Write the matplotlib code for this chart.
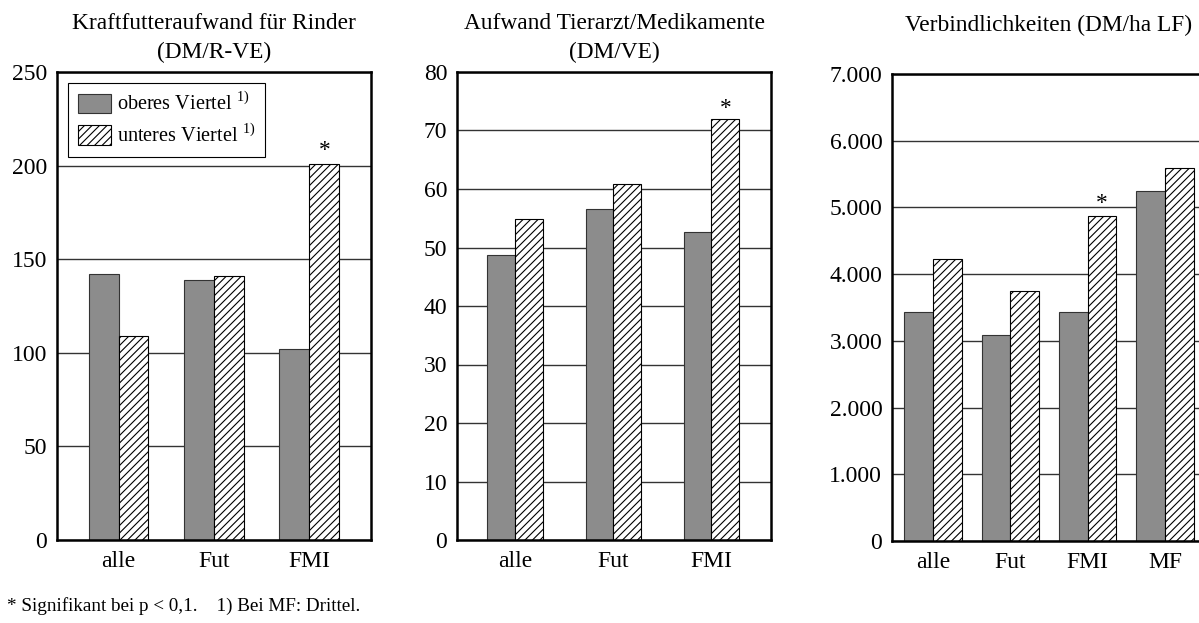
import matplotlib.pyplot as plt
from matplotlib.ticker import FuncFormatter

# dpi 90 so that the "////" hatch gets the same line spacing as the original
DPI = 90
S = 100 / DPI  # sizes below are tuned for 100 dpi, scale them up

plt.rcParams["font.family"] = ["Liberation Serif", "DejaVu Serif"]
plt.rcParams["mathtext.fontset"] = "custom"
plt.rcParams["mathtext.rm"] = "Liberation Serif"
plt.rcParams["hatch.linewidth"] = 0.8 * S
plt.rcParams["hatch.color"] = "black"

TITLE_SIZE = 16.8 * S
TICK_SIZE = 17 * S
LEGEND_SIZE = 14.6 * S
NOTE_SIZE = 13.8 * S
GRAY = "#8c8c8c"
FIG_W, FIG_H = 1199, 623

# Kraftfutteraufwand fuer Rinder (DM/R-VE)
kraft_categories = ["alle", "Fut", "FMI"]
kraft_oberes = [142, 139, 102]
kraft_unteres = [109, 141, 201]
kraft_signif = ["FMI"]

# Aufwand Tierarzt/Medikamente (DM/VE)
tier_categories = ["alle", "Fut", "FMI"]
tier_oberes = [48.8, 56.6, 52.7]
tier_unteres = [54.8, 60.8, 71.9]
tier_signif = ["FMI"]

# Verbindlichkeiten (DM/ha LF)
verb_categories = ["alle", "Fut", "FMI", "MF"]
verb_oberes = [3440, 3090, 3440, 5240]
verb_unteres = [4220, 3745, 4865, 5595]
verb_signif = ["FMI"]

label_oberes = "oberes Viertel $^{\\mathrm{1)}}$"
label_unteres = "unteres Viertel $^{\\mathrm{1)}}$"
footnote = "* Signifikant bei p < 0,1.    1) Bei MF: Drittel."


def px_axes(fig, left, top, right, bottom):
    return fig.add_axes([left / FIG_W, 1 - bottom / FIG_H,
                         (right - left) / FIG_W, (bottom - top) / FIG_H])


def de_format(v, pos):
    return f"{v:,.0f}".replace(",", ".")


def plot_panel(ax, title, categories, oberes, unteres, signif, width,
               xlim, ylim, step, title_pad, star_off=2, thousands=False):
    x = list(range(len(categories)))
    ax.set_axisbelow(True)
    ax.yaxis.grid(True, color="#333333", lw=1.0 * S)
    ax.bar([i - width / 2 for i in x], oberes, width, color=GRAY,
           edgecolor="#333333", lw=0.8 * S, label=label_oberes)
    bars = ax.bar([i + width / 2 for i in x], unteres, width, color="white",
                  edgecolor="black", lw=0.8 * S, hatch="////", label=label_unteres)
    for cat, rect in zip(categories, bars):
        if cat in signif:
            ax.annotate("*", (rect.get_x() + rect.get_width() / 2, rect.get_height()),
                        xytext=(0, star_off * S), textcoords="offset points",
                        ha="center", va="bottom", fontsize=TITLE_SIZE)
    ax.set_xlim(*xlim)
    ax.set_ylim(*ylim)
    ax.set_yticks([v for v in range(ylim[0], ylim[1] + 1, step)])
    if thousands:
        ax.yaxis.set_major_formatter(FuncFormatter(de_format))
    ax.set_xticks(x)
    ax.set_xticklabels(categories)
    ax.tick_params(axis="y", length=0, pad=7 * S, labelsize=TICK_SIZE)
    ax.tick_params(axis="x", length=0, pad=8 * S, labelsize=TICK_SIZE)
    for sp in ax.spines.values():
        sp.set_linewidth(1.8 * S)
    ax.set_title(title, fontsize=TITLE_SIZE, pad=title_pad * S, linespacing=1.5)


fig = plt.figure(figsize=(FIG_W / DPI, FIG_H / DPI), dpi=DPI)

ax1 = px_axes(fig, 57, 72, 371, 540)
plot_panel(ax1, "Kraftfutteraufwand für Rinder\n(DM/R-VE)", kraft_categories,
           kraft_oberes, kraft_unteres, kraft_signif, 0.314,
           (-0.645, 2.646), (0, 250), 50, 10)

ax2 = px_axes(fig, 457, 72, 771, 540)
plot_panel(ax2, "Aufwand Tierarzt/Medikamente\n(DM/VE)", tier_categories,
           tier_oberes, tier_unteres, tier_signif, 0.283,
           (-0.592, 2.606), (0, 80), 10, 10, star_off=0)

ax3 = px_axes(fig, 892, 74, 1206, 541)
plot_panel(ax3, "Verbindlichkeiten (DM/ha LF)", verb_categories,
           verb_oberes, verb_unteres, verb_signif, 0.371,
           (-0.53, 3.53), (0, 7000), 1000, 31, thousands=True)

leg = ax1.legend(loc="upper left", bbox_to_anchor=(68 / FIG_W, 1 - 83 / FIG_H),
                 bbox_transform=fig.transFigure, borderaxespad=0, borderpad=0.5,
                 handlelength=1.6, handleheight=1.1, handletextpad=0.3,
                 labelspacing=0.45, fancybox=False, framealpha=1,
                 edgecolor="black", fontsize=LEGEND_SIZE)
leg.get_frame().set_linewidth(0.8 * S)

fig.text(7 / FIG_W, 1 - 611 / FIG_H, footnote, fontsize=NOTE_SIZE,
         va="baseline", ha="left")

fig.savefig("out.png", dpi=DPI)
